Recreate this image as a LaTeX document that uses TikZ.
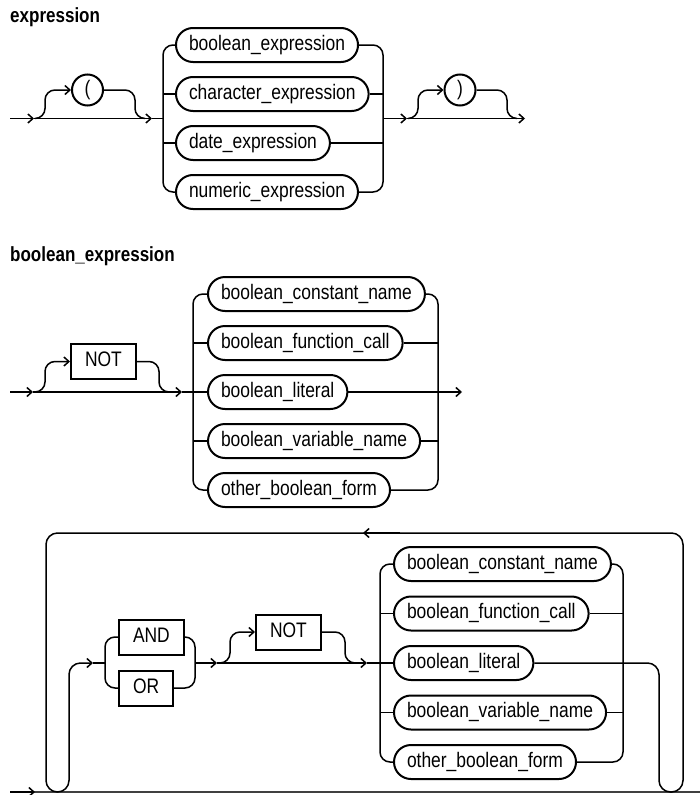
\documentclass[tikz,border=0pt]{standalone}
\usepackage{fontspec}
\newfontfamily\itemfont{Liberation Sans}[FakeStretch=0.83]
\usetikzlibrary{arrows.meta}
\begin{document}
\begin{tikzpicture}[x=1pt,y=-1pt,
  txt/.style={font=\itemfont\fontsize{21}{25}\selectfont, text height=15pt, text depth=4.5pt},
  rr/.style={txt, draw, line width=2pt, rounded corners=17pt, minimum height=34pt, inner xsep=13pt, inner ysep=0pt, anchor=west},
  kw/.style={txt, draw, line width=2pt, minimum height=35pt, inner xsep=14pt, inner ysep=0pt, anchor=west},
  sym/.style={txt, draw, circle, line width=2pt, minimum size=31pt, inner sep=0pt},
  ttl/.style={font=\itemfont\fontsize{20.5}{24}\selectfont\bfseries, anchor=base west, inner sep=0pt},
  ln/.style={line width=1.5pt, rounded corners=10pt},
  arr/.style={-{Straight Barb[length=5pt,width=9pt]}}
]
\useasboundingbox (0,0) rectangle (700,795);

% ---------- expression ----------
\node[ttl] (t1) at (10,23) {expression};
\node[sym] (lp) at (87.5,90) {(};
\node[sym] (rp) at (460,90) {)};
\node[rr] (b1) at (175,45) {boolean\_expression};
\node[rr] (b2) at (175,94) {character\_expression};
\node[rr] (b3) at (175,143) {date\_expression};
\node[rr] (b4) at (175,192) {numeric\_expression};
\coordinate (s1) at (10,118.5);
\coordinate (a1) at (34,118.5);
\coordinate (a2) at (152,118.5);
\coordinate (j1) at (163,118.5);
\coordinate (j2) at (383,118.5);
\coordinate (a3) at (407,118.5);
\coordinate (e1) at (525,118.5);

\draw[ln,arr] (s1) -- (a1);
\draw[ln,arr] (a1) -- (a2);
\draw[ln] (a2) -- (j1);
\draw[ln,arr] (35,118.5) -- (45,118.5) -- (45,90) -- (lp.west);
\draw[ln] (lp.east) -- (135,90) -- (135,118.5) -- (145,118.5);
\draw[ln] (b1.west) -- (163,45) -- (163,192) -- (b4.west);
\draw[ln] (163,94) -- (b2.west);
\draw[ln] (163,143) -- (b3.west);
\draw[ln] (b1.east) -- (383,45) -- (383,192) -- (b4.east);
\draw[ln] (b2.east) -- (383,94);
\draw[ln] (b3.east) -- (383,143);
\draw[ln,arr] (j2) -- (a3);
\draw[ln,arr] (a3) -- (e1);
\draw[ln,arr] (408,118.5) -- (418,118.5) -- (418,90) -- (rp.west);
\draw[ln] (rp.east) -- (507,90) -- (507,118.5) -- (517,118.5);

% ---------- boolean_expression ----------
\node[ttl] (t2) at (10,261) {boolean\_expression};
\node[kw] (n1) at (70,361.5) {NOT};
\node[rr] (c2) at (207,294) {boolean\_constant\_name};
\node[rr] (f2) at (207,343) {boolean\_function\_call};
\node[rr] (l2) at (207,392) {boolean\_literal};
\node[rr] (v2) at (207,441) {boolean\_variable\_name};
\node[rr] (o2) at (207,490) {other\_boolean\_form};
\coordinate (s2) at (10,392);
\coordinate (a4) at (33,392);
\coordinate (a5) at (182,392);
\coordinate (e2) at (462,392);

\draw[ln,arr] (s2) -- (a4);
\draw[ln,arr] (a4) -- (a5);
\draw[ln] (a5) -- (l2.west);
\draw[ln,arr] (35,392) -- (45,392) -- (45,361.5) -- (n1.west);
\draw[ln] (n1.east) -- (159,361.5) -- (159,392) -- (169,392);
\draw[ln] (c2.west) -- (193,294) -- (193,490) -- (o2.west);
\draw[ln] (193,343) -- (f2.west);
\draw[ln] (193,441) -- (v2.west);
\draw[ln] (c2.east) -- (438,294) -- (438,490) -- (o2.east);
\draw[ln] (f2.east) -- (438,343);
\draw[ln] (v2.east) -- (438,441);
\draw[ln,arr] (l2.east) -- (e2);

% ---------- loop ----------
\node[kw] (and) at (118,637) {AND};
\node[kw] (or) at (118,688) {OR};
\node[kw] (n2) at (255,632) {NOT};
\node[rr] (c3) at (393,564) {boolean\_constant\_name};
\node[rr] (f3) at (393,613.5) {boolean\_function\_call};
\node[rr] (l3) at (393,663) {boolean\_literal};
\node[rr] (v3) at (393,712.5) {boolean\_variable\_name};
\node[rr] (o3) at (393,762) {other\_boolean\_form};
\coordinate (s3) at (10,792);
\coordinate (a6) at (35,792);
\coordinate (e3) at (700,792);
\coordinate (a7) at (93,663);
\coordinate (j3) at (105,663);
\coordinate (j4) at (195,663);
\coordinate (a8) at (217,663);
\coordinate (a9) at (367,663);

\draw[line width=2pt, black!75] (s3) -- (e3);
\draw[ln,arr] (s3) -- (a6);
\draw[ln,arr,rounded corners=11.5pt] (l3.east) -- (659,663) -- (659,792) -- (683,792) -- (683,533)
   -- (46,533) -- (46,792) -- (69,792) -- (69,663) -- (a7);
\draw[ln,arr] (400,533) -- (363,533);
\draw[ln] (a7) -- (j3);
\draw[ln] (and.west) -- (105,637) -- (105,688) -- (or.west);
\draw[ln] (and.east) -- (195,637) -- (195,688) -- (or.east);
\draw[ln,arr] (j4) -- (a8);
\draw[ln,arr] (a8) -- (a9);
\draw[ln] (a9) -- (l3.west);
\draw[ln,arr] (220,663) -- (230,663) -- (230,632) -- (n2.west);
\draw[ln] (n2.east) -- (345,632) -- (345,663) -- (355,663);
\draw[ln] (c3.west) -- (380,564) -- (380,762) -- (o3.west);
\draw[ln] (380,613.5) -- (f3.west);
\draw[ln] (380,712.5) -- (v3.west);
\draw[ln] (c3.east) -- (623,564) -- (623,762) -- (o3.east);
\draw[ln] (f3.east) -- (623,613.5);
\draw[ln] (v3.east) -- (623,712.5);
\end{tikzpicture}
\end{document}
